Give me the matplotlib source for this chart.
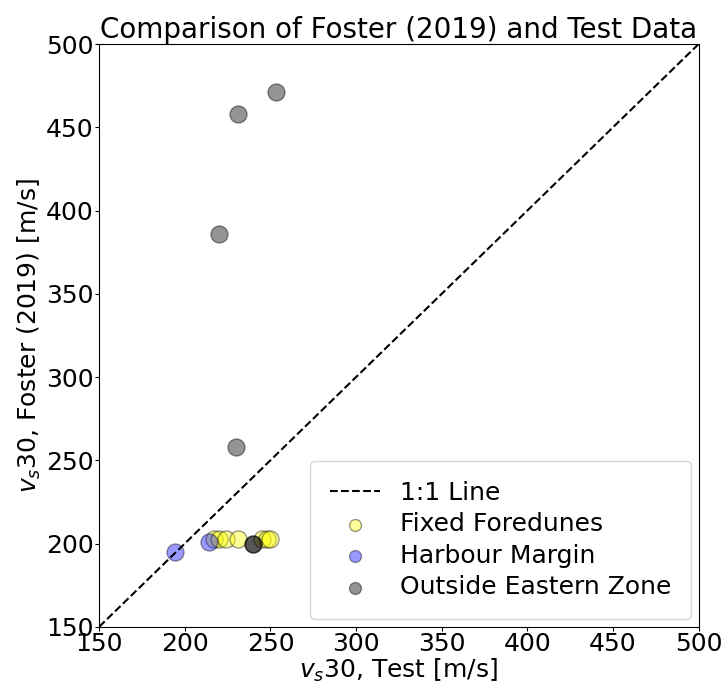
import matplotlib
matplotlib.use("Agg")
import matplotlib.pyplot as plt
import numpy as np

# vs30 values [m/s]
fixed_test = [217, 220, 224, 231, 245, 248, 250]
fixed_foster = [203, 203, 203, 203, 203, 203, 203]

harbour_test = [194, 214]
harbour_foster = [195, 201]

outside_test = [253, 231, 220, 230, 240, 240]
outside_foster = [471, 458, 386, 258, 200, 200]

line_vals = [150, 500]

fig = plt.figure(figsize=(7.24, 6.88), dpi=100)
ax = fig.add_axes([0.137, 0.089, 0.828, 0.847])

ax.plot(line_vals, line_vals, 'k--', label='1:1 Line')
ax.scatter(fixed_test, fixed_foster, s=150, c='yellow', alpha=0.4,
           edgecolors='k', label='Fixed Foredunes')
ax.scatter(harbour_test, harbour_foster, s=150, c='b', alpha=0.4,
           edgecolors='k', label='Harbour Margin')
ax.scatter(outside_test, outside_foster, s=150, c='k', alpha=0.42,
           edgecolors='k', label='Outside Eastern Zone')

ax.set_xlim(150, 500)
ax.set_ylim(150, 500)
ax.set_xlabel(r'$v_s$30, Test [m/s]', fontsize=18, labelpad=0)
ax.set_ylabel(r'$v_s$30, Foster (2019) [m/s]', fontsize=18, labelpad=2)
ax.set_title('Comparison of Foster (2019) and Test Data', fontsize=20, pad=0)
ax.tick_params(labelsize=18, length=3, pad=1)
ax.legend(loc='lower right', fontsize=18, labelspacing=0.3, markerscale=0.7,
          borderpad=0.8, borderaxespad=0.3)

fig.savefig('out.png', dpi=100)
